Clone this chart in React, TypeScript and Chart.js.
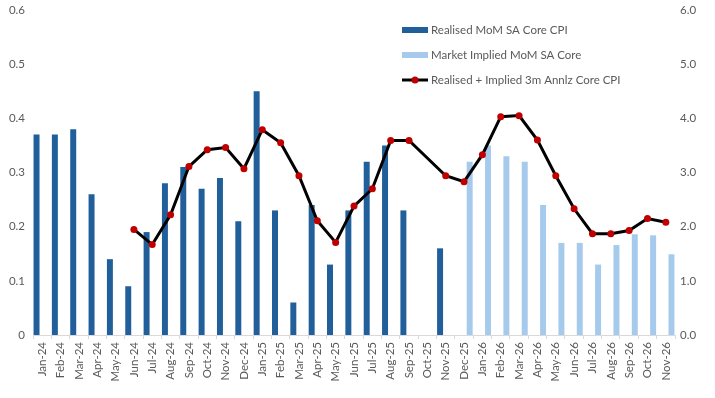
import React, { useEffect, useRef } from "react";
import { Chart, registerables } from "chart.js";

Chart.register(...registerables);

const labels = [
  "Jan-24","Feb-24","Mar-24","Apr-24","May-24","Jun-24","Jul-24","Aug-24","Sep-24","Oct-24","Nov-24","Dec-24",
  "Jan-25","Feb-25","Mar-25","Apr-25","May-25","Jun-25","Jul-25","Aug-25","Sep-25","Oct-25","Nov-25","Dec-25",
  "Jan-26","Feb-26","Mar-26","Apr-26","May-26","Jun-26","Jul-26","Aug-26","Sep-26","Oct-26","Nov-26",
];

const realised: (number | null)[] = [
  0.37, 0.37, 0.38, 0.26, 0.14, 0.09, 0.19, 0.28, 0.31, 0.27, 0.29, 0.21,
  0.45, 0.23, 0.06, 0.24, 0.13, 0.23, 0.32, 0.35, 0.23, null, 0.16,
  null, null, null, null, null, null, null, null, null, null, null, null,
];

const implied: (number | null)[] = [
  null, null, null, null, null, null, null, null, null, null, null, null,
  null, null, null, null, null, null, null, null, null, null, null,
  0.32, 0.35, 0.33, 0.32, 0.24, 0.17, 0.17, 0.13, 0.166, 0.186, 0.184, 0.149,
];

const annualised: (number | null)[] = [
  null, null, null, null, null,
  1.95, 1.67, 2.22, 3.11, 3.42, 3.46, 3.07, 3.79, 3.55, 2.94, 2.11, 1.71, 2.38,
  2.7, 3.59, 3.59, null, 2.94, 2.83, 3.33, 4.03, 4.05, 3.6, 2.94, 2.33, 1.87,
  1.87, 1.93, 2.15, 2.08,
];

const legendLabels = [
  "Realised MoM SA Core CPI",
  "Market Implied MoM SA Core",
  "Realised + Implied 3m Annlz Core CPI",
];

const DARK = "#215F9A";
const LIGHT = "#A6CAEC";
const RED = "#C00000";
const TEXT = "#595959";
const FONT = "Lato, 'Liberation Sans', Arial, sans-serif";

const legendPlugin = {
  id: "customLegend",
  afterDraw(chart: any) {
    const ctx = chart.ctx as CanvasRenderingContext2D;
    ctx.save();
    const x0 = 402;
    const ys = [30, 55, 80];
    ctx.font = `11.5px ${FONT}`;
    ctx.textBaseline = "middle";
    ctx.fillStyle = DARK;
    ctx.fillRect(x0, ys[0] - 3, 26, 6);
    ctx.fillStyle = LIGHT;
    ctx.fillRect(x0, ys[1] - 3, 26, 6);
    ctx.strokeStyle = "#000";
    ctx.lineWidth = 3;
    ctx.beginPath();
    ctx.moveTo(x0, ys[2]);
    ctx.lineTo(x0 + 26, ys[2]);
    ctx.stroke();
    ctx.fillStyle = RED;
    ctx.beginPath();
    ctx.arc(x0 + 13, ys[2], 3.5, 0, Math.PI * 2);
    ctx.fill();
    ctx.fillStyle = TEXT;
    legendLabels.forEach((t, i) => ctx.fillText(t, x0 + 29, ys[i]));
    ctx.restore();
  },
};

export default function App() {
  const ref = useRef<HTMLCanvasElement>(null);

  useEffect(() => {
    if (!ref.current) return;
    const chart = new Chart(ref.current, {
      type: "bar",
      data: {
        labels,
        datasets: [
          {
            type: "bar",
            label: legendLabels[0],
            data: realised,
            backgroundColor: DARK,
            yAxisID: "y",
            order: 1,
            categoryPercentage: 1.23,
            barPercentage: 0.53,
          },
          {
            type: "bar",
            label: legendLabels[1],
            data: implied,
            backgroundColor: LIGHT,
            yAxisID: "y",
            order: 1,
            categoryPercentage: 1.23,
            barPercentage: 0.53,
          },
          {
            type: "line",
            label: legendLabels[2],
            data: annualised,
            borderColor: "#000",
            borderWidth: 3,
            pointBackgroundColor: RED,
            pointBorderColor: RED,
            pointBorderWidth: 0,
            pointRadius: 3.5,
            spanGaps: true,
            tension: 0,
            yAxisID: "y1",
            order: 0,
          } as any,
        ],
      },
      options: {
        animation: false,
        responsive: false,
        maintainAspectRatio: false,
        layout: { padding: { top: 10, right: 0, left: 0, bottom: 0 } },
        plugins: {
          legend: { display: false },
          tooltip: { enabled: false },
        },
        scales: {
          x: {
            offset: true,
            grid: {
              display: true,
              offset: true,
              drawOnChartArea: false,
              drawTicks: true,
              tickLength: 4,
              color: "#D9D9D9",
            },
            border: { display: true, color: "#D9D9D9", width: 1 },
            ticks: {
              minRotation: 90,
              maxRotation: 90,
              autoSkip: false,
              padding: 3,
              color: TEXT,
              font: { family: FONT, size: 11.5 },
            },
            afterFit(scale: any) {
              scale.height = 63;
              scale.paddingLeft = 0;
              scale.paddingRight = 0;
            },
          },
          y: {
            position: "left",
            min: 0,
            max: 0.6,
            grid: { display: false, drawTicks: false },
            border: { display: false },
            ticks: {
              stepSize: 0.1,
              padding: 8,
              color: TEXT,
              font: { family: FONT, size: 11.5 },
              callback: (v: any) => (v === 0 ? "0" : Number(v).toFixed(1)),
            },
            afterFit(scale: any) {
              scale.width = 33;
              scale.paddingTop = 0;
              scale.paddingBottom = 0;
            },
          },
          y1: {
            position: "right",
            min: 0,
            max: 6,
            grid: { display: false, drawTicks: false },
            border: { display: false },
            ticks: {
              stepSize: 1,
              padding: 5,
              color: TEXT,
              font: { family: FONT, size: 11.5 },
              callback: (v: any) => Number(v).toFixed(1),
            },
            afterFit(scale: any) {
              scale.width = 40;
              scale.paddingTop = 0;
              scale.paddingBottom = 0;
            },
          },
        },
      },
      plugins: [legendPlugin],
    });
    return () => chart.destroy();
  }, []);

  return (
    <div style={{ position: "fixed", left: 0, top: 0, width: 715, height: 398, background: "#fff" }}>
      <canvas ref={ref} width={715} height={398} style={{ width: 715, height: 398 }} />
    </div>
  );
}
